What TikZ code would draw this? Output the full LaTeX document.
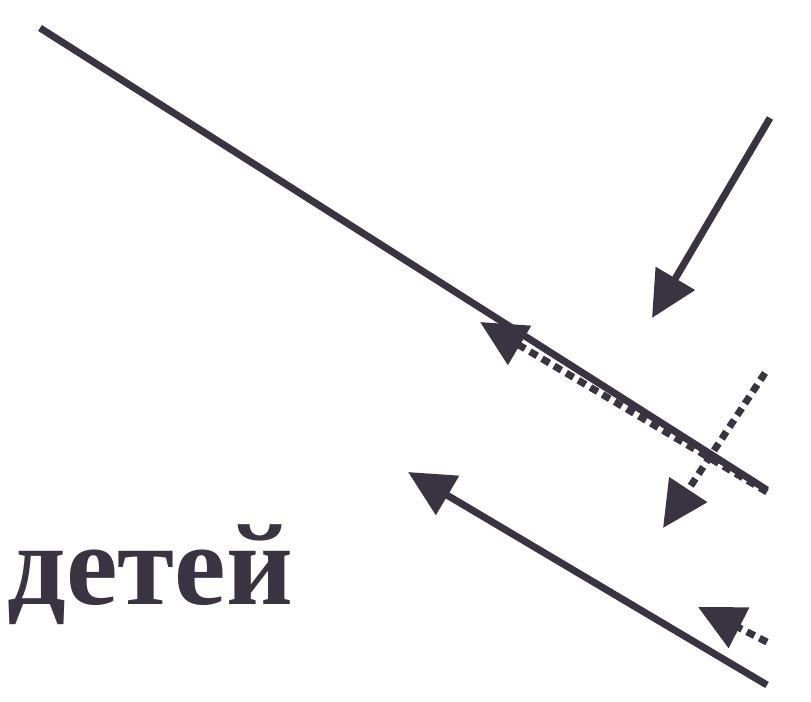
\documentclass[tikz,border=0pt]{standalone}
\usepackage{fontspec}
\setmainfont{Liberation Serif}
\usetikzlibrary{arrows.meta}
\definecolor{inkgray}{RGB}{58,52,66}
\tikzset{
  flow/.style={-{Triangle[length=4.6mm,width=4.4mm]},line width=2pt,draw=inkgray},
  dashflow/.style={flow,dash pattern=on 2.4pt off 1.6pt},
  caption/.style={font=\fontsize{33}{36}\selectfont\bfseries,text=inkgray,inner sep=0pt}
}
\begin{document}
\begin{tikzpicture}
  \useasboundingbox (0,0) rectangle (8.11,7.02);
  % end points
  \coordinate (longstart) at (0.40,6.74);
  \coordinate (longend) at (7.67,2.12);
  \coordinate (backstart) at (7.67,2.10);
  \coordinate (backtip) at (4.80,3.80);
  \coordinate (inupper) at (7.70,5.84);
  \coordinate (inuppertip) at (6.52,3.84);
  \coordinate (inmiddle) at (7.65,3.29);
  \coordinate (inmiddletip) at (6.63,1.74);
  \coordinate (outlower) at (7.67,0.17);
  \coordinate (outlowertip) at (4.08,2.30);
  \coordinate (inlower) at (7.67,0.60);
  \coordinate (inlowertip) at (6.98,0.95);
  \node[caption,anchor=base west] (children) at (0.07,0.97) {детей};
  \draw[line width=2pt,draw=inkgray] (longstart) -- (longend);
  \draw[dashflow] (backstart) -- (backtip);
  \draw[flow] (inupper) -- (inuppertip);
  \draw[dashflow] (inmiddle) -- (inmiddletip);
  \draw[flow] (outlower) -- (outlowertip);
  \draw[dashflow] (inlower) -- (inlowertip);
\end{tikzpicture}
\end{document}
